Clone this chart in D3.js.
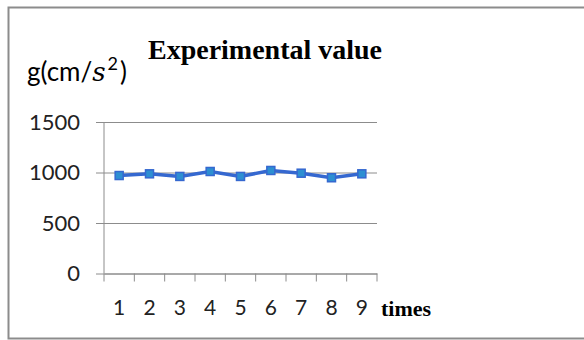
<!DOCTYPE html>
<html>
<head>
<meta charset="utf-8">
<script src="https://cdn.jsdelivr.net/npm/d3@7"></script>
<style>
  body { margin: 0; background: #fff; }
  svg { display: block; }
</style>
</head>
<body>
<script>
var times = ['1', '2', '3', '4', '5', '6', '7', '8', '9'];
var gValues = [970, 987, 961, 1010, 961, 1020, 993, 948, 987];
var yTicks = [0, 500, 1000, 1500];

var w = 584, h = 340;
var plotLeft = 104, plotRight = 377, plotTop = 122, plotBottom = 273.5;

var svg = d3.select('body').append('svg')
  .attr('width', w)
  .attr('height', h);

// frame
svg.append('rect')
  .attr('x', 8.5).attr('y', 7.5)
  .attr('width', 620).attr('height', 331)
  .attr('fill', 'none')
  .attr('stroke', '#8c8c8c')
  .attr('stroke-width', 2);

var x = d3.scaleBand().domain(times).range([plotLeft, plotRight]);
var y = d3.scaleLinear().domain([0, 1500]).range([plotBottom, plotTop]);

// gridlines + y labels
var yAxis = d3.axisLeft(y)
  .tickValues(yTicks)
  .tickSize(-(plotRight - plotLeft))
  .tickPadding(24)
  .tickFormat(d3.format('d'));

var gy = svg.append('g')
  .attr('transform', 'translate(' + plotLeft + ',0)')
  .call(yAxis);
gy.select('.domain').remove();
gy.selectAll('.tick line')
  .attr('x1', -8)
  .attr('stroke', '#8c8c8c');
gy.selectAll('.tick text')
  .attr('font-family', 'Lato, "Open Sans", sans-serif')
  .attr('font-size', 22)
  .attr('fill', '#222');

// y axis line
svg.append('line')
  .attr('x1', plotLeft).attr('x2', plotLeft)
  .attr('y1', plotTop).attr('y2', plotBottom)
  .attr('stroke', '#8c8c8c');

// x axis
var xAxis = d3.axisBottom(x).tickSize(0).tickPadding(27);
var gx = svg.append('g')
  .attr('transform', 'translate(0,' + plotBottom + ')')
  .call(xAxis);
gx.select('.domain').attr('stroke', '#8c8c8c');
gx.selectAll('.tick text')
  .attr('font-family', 'Lato, "Open Sans", sans-serif')
  .attr('font-size', 21)
  .attr('fill', '#222');

// tick marks at band edges
var edges = times.map(function(d) { return x(d); }).concat([x(times[times.length - 1]) + x.bandwidth()]);
svg.append('g').selectAll('line')
  .data(edges)
  .enter().append('line')
  .attr('x1', function(d) { return d; })
  .attr('x2', function(d) { return d; })
  .attr('y1', plotBottom).attr('y2', plotBottom + 8)
  .attr('stroke', '#8c8c8c');

// series line
var line = d3.line()
  .x(function(d, i) { return x(times[i]) + x.bandwidth() / 2; })
  .y(function(d) { return y(d); });

svg.append('path')
  .datum(gValues)
  .attr('d', line)
  .attr('fill', 'none')
  .attr('stroke', '#3568d0')
  .attr('stroke-width', 3.5);

svg.append('g').selectAll('rect')
  .data(gValues)
  .enter().append('rect')
  .attr('x', function(d, i) { return x(times[i]) + x.bandwidth() / 2 - 4; })
  .attr('y', function(d) { return y(d) - 4; })
  .attr('width', 8).attr('height', 8)
  .attr('fill', '#2d8fd2')
  .attr('stroke', '#3568d0')
  .attr('stroke-width', 1.5);

// title
svg.append('text')
  .attr('x', 265).attr('y', 59)
  .attr('text-anchor', 'middle')
  .attr('font-family', '"Liberation Serif", "Times New Roman", serif')
  .attr('font-weight', 'bold')
  .attr('font-size', 28)
  .attr('fill', '#000')
  .text('Experimental value');

// y axis title
var yt = svg.append('text')
  .attr('x', 27).attr('y', 81)
  .attr('font-family', 'Lato, "Open Sans", sans-serif')
  .attr('font-size', 26)
  .attr('fill', '#000');
yt.append('tspan').text('g(cm/');
yt.append('tspan').attr('font-style', 'italic').attr('font-family', '"DejaVu Serif", serif').text('s');
yt.append('tspan').attr('font-size', 18).attr('dy', -11).attr('dx', 2).text('2');
yt.append('tspan').attr('dy', 11).attr('dx', 2).text(')');

// x axis title
svg.append('text')
  .attr('x', 381).attr('y', 316)
  .attr('font-family', '"Liberation Serif", "Times New Roman", serif')
  .attr('font-weight', 'bold')
  .attr('font-size', 22)
  .attr('fill', '#000')
  .text('times');
</script>
</body>
</html>
